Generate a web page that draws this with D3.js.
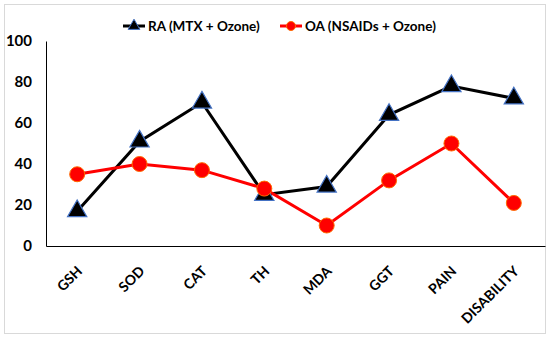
<!DOCTYPE html>
<html>
<head>
<meta charset="utf-8">
<script src="https://cdn.jsdelivr.net/npm/d3@7"></script>
<style>
  body { margin: 0; background: #fff; }
  text { font-family: Lato, "Open Sans", sans-serif; font-weight: bold; fill: #000; }
</style>
</head>
<body>
<div id="chart-area"></div>
<script>
const categories = ["GSH", "SOD", "CAT", "TH", "MDA", "GGT", "PAIN", "DISABILITY"];
const raValues = [17, 51, 70, 25, 29, 64, 78, 72];
const oaValues = [35, 40, 37, 28, 10, 32, 50, 21];
const yTicks = [0, 20, 40, 60, 80, 100];
const seriesNames = ["RA (MTX + Ozone)", "OA (NSAIDs + Ozone)"];

const W = 550, H = 338;
const margin = { top: 41, right: 5, bottom: 92, left: 46 };
const width = W - margin.left - margin.right;
const height = H - margin.top - margin.bottom;

const svg = d3.select("#chart-area")
    .append("svg")
    .attr("width", W)
    .attr("height", H);

// outer frame
svg.append("rect")
    .attr("x", 4.5).attr("y", 4.5)
    .attr("width", W - 9).attr("height", H - 9)
    .attr("fill", "none")
    .attr("stroke", "#d9d9d9")
    .attr("stroke-width", 1);

const g = svg.append("g")
    .attr("transform", "translate(" + margin.left + ", " + margin.top + ")");

const x = d3.scaleBand().domain(categories).range([0, width]);
const y = d3.scaleLinear().domain([0, 100]).range([height, 0]);
const cx = d => x(d) + x.bandwidth() / 2;

// axes
const leftAxis = d3.axisLeft(y).tickValues(yTicks).tickSize(0).tickPadding(14);
g.append("g").attr("class", "left axis").call(leftAxis)
    .call(a => a.select(".domain").attr("stroke", "#000").attr("stroke-width", 1))
    .selectAll("text")
    .style("font-size", "15px");

const bottomAxis = d3.axisBottom(x).tickSize(0).tickFormat("");
g.append("g").attr("class", "bottom axis")
    .attr("transform", "translate(0, " + height + ")")
    .call(bottomAxis)
    .call(a => a.select(".domain").attr("stroke", "#000").attr("stroke-width", 1));

// rotated category labels, rotation via css transform
g.selectAll(".xlabel").data(categories).enter()
    .append("text")
    .attr("class", "xlabel")
    .attr("text-anchor", "end")
    .style("font-size", "14px")
    .style("transform-origin", "0 0")
    .style("transform", d => "translate(" + (cx(d) + 6) + "px," + (height + 26) + "px) rotate(-45deg)")
    .text(d => d);

// lines
const line = d3.line()
    .x((d, i) => cx(categories[i]))
    .y(d => y(d));

g.append("path").datum(raValues)
    .attr("fill", "none").attr("stroke", "#000").attr("stroke-width", 3)
    .attr("d", line);

g.append("path").datum(oaValues)
    .attr("fill", "none").attr("stroke", "#ff0000").attr("stroke-width", 3)
    .attr("d", line);

const tri = d3.symbol().type(d3.symbolTriangle).size(160);

g.selectAll(".ra-pt").data(raValues).enter()
    .append("path")
    .attr("class", "ra-pt")
    .attr("d", tri)
    .attr("transform", (d, i) => "translate(" + cx(categories[i]) + "," + y(d) + ")")
    .attr("fill", "#000")
    .attr("stroke", "#4472c4")
    .attr("stroke-width", 1.2);

g.selectAll(".oa-pt").data(oaValues).enter()
    .append("circle")
    .attr("class", "oa-pt")
    .attr("cx", (d, i) => cx(categories[i]))
    .attr("cy", d => y(d))
    .attr("r", 7.5)
    .attr("fill", "#ff0000")
    .attr("stroke", "#ff6a00")
    .attr("stroke-width", 1);

// legend
const legend = svg.append("g").attr("class", "legend");
const legendX = [123, 280];
seriesNames.forEach((name, i) => {
    const lg = legend.append("g").attr("transform", "translate(" + legendX[i] + ", 26)");
    lg.append("line").attr("x1", 0).attr("x2", 22).attr("y1", 0).attr("y2", 0)
        .attr("stroke", i === 0 ? "#000" : "#ff0000").attr("stroke-width", 3);
    if (i === 0) {
        lg.append("path").attr("d", d3.symbol().type(d3.symbolTriangle).size(60))
            .attr("transform", "translate(11,0)")
            .attr("fill", "#000").attr("stroke", "#4472c4").attr("stroke-width", 1);
    } else {
        lg.append("circle").attr("cx", 11).attr("cy", 0).attr("r", 4.5)
            .attr("fill", "#ff0000").attr("stroke", "#ff6a00");
    }
    lg.append("text").attr("x", 25).attr("y", 0).attr("dy", "0.35em")
        .style("font-size", "13.5px").text(name);
});
</script>
</body>
</html>
